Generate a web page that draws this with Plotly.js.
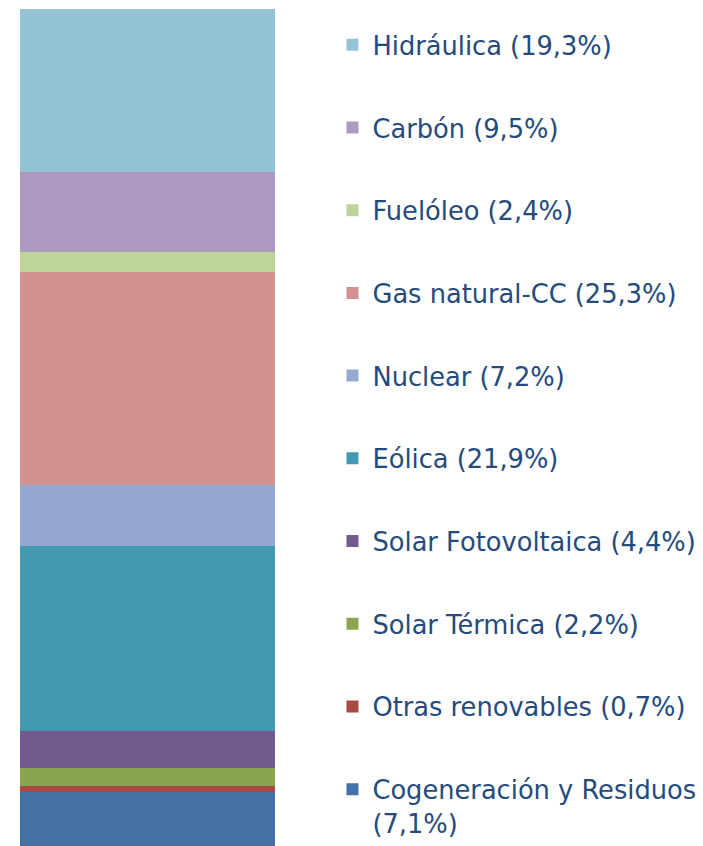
<!DOCTYPE html>
<html>
<head>
<meta charset="utf-8">
<script src="https://cdn.plot.ly/plotly-3.0.1.min.js"></script>
<style>html,body{margin:0;padding:0;background:#fff;overflow:hidden}</style>
</head>
<body>
<div id="chart" style="width:703px;height:846px"></div>
<script>
// Bottom to top stacking order
var categories = ["Cogeneración y Residuos", "Otras renovables", "Solar Térmica", "Solar Fotovoltaica", "Eólica", "Nuclear", "Gas natural-CC", "Fuelóleo", "Carbón", "Hidráulica"];
var shares = [7.1, 0.7, 2.2, 4.4, 21.9, 7.2, 25.3, 2.4, 9.5, 19.3];
var labels = ["Cogeneración y Residuos<br>(7,1%)", "Otras renovables (0,7%)", "Solar Térmica (2,2%)", "Solar Fotovoltaica (4,4%)", "Eólica (21,9%)", "Nuclear (7,2%)", "Gas natural-CC (25,3%)", "Fuelóleo (2,4%)", "Carbón (9,5%)", "Hidráulica (19,3%)"];
var colors = ["#4472A7", "#A94A43", "#8AA54E", "#725A8E", "#4299B0", "#95A8D0", "#D29292", "#BFD49B", "#AC9AC0", "#93C3D4"];
var xcat = ["Total"];

var traces = categories.map(function(c, i) {
  return {
    type: "bar",
    x: xcat,
    y: [shares[i]],
    name: labels[i],
    legendgroup: c,
    legendrank: categories.length - i,
    marker: {color: colors[i], line: {width: 0}},
    hoverinfo: "name"
  };
});

var layout = {
  width: 703,
  height: 846,
  margin: {l: 20, r: 0, t: 9, b: 0, autoexpand: false},
  paper_bgcolor: "#ffffff",
  plot_bgcolor: "#ffffff",
  barmode: "stack",
  bargap: 0,
  showlegend: true,
  xaxis: {domain: [0, 0.3734], range: [-0.5, 0.5], visible: false, fixedrange: true},
  yaxis: {range: [0.7, 100], visible: false, fixedrange: true},
  legend: {
    x: 0.4575, y: 0.985, xanchor: "left", yanchor: "top",
    traceorder: "grouped",
    tracegroupgap: 46.3,
    valign: "top",
    font: {family: "DejaVu Sans", size: 25.7, color: "#254A7C"},
    bgcolor: "rgba(0,0,0,0)"
  }
};

Plotly.newPlot("chart", traces, layout, {displayModeBar: false, staticPlot: true});
</script>
</body>
</html>
